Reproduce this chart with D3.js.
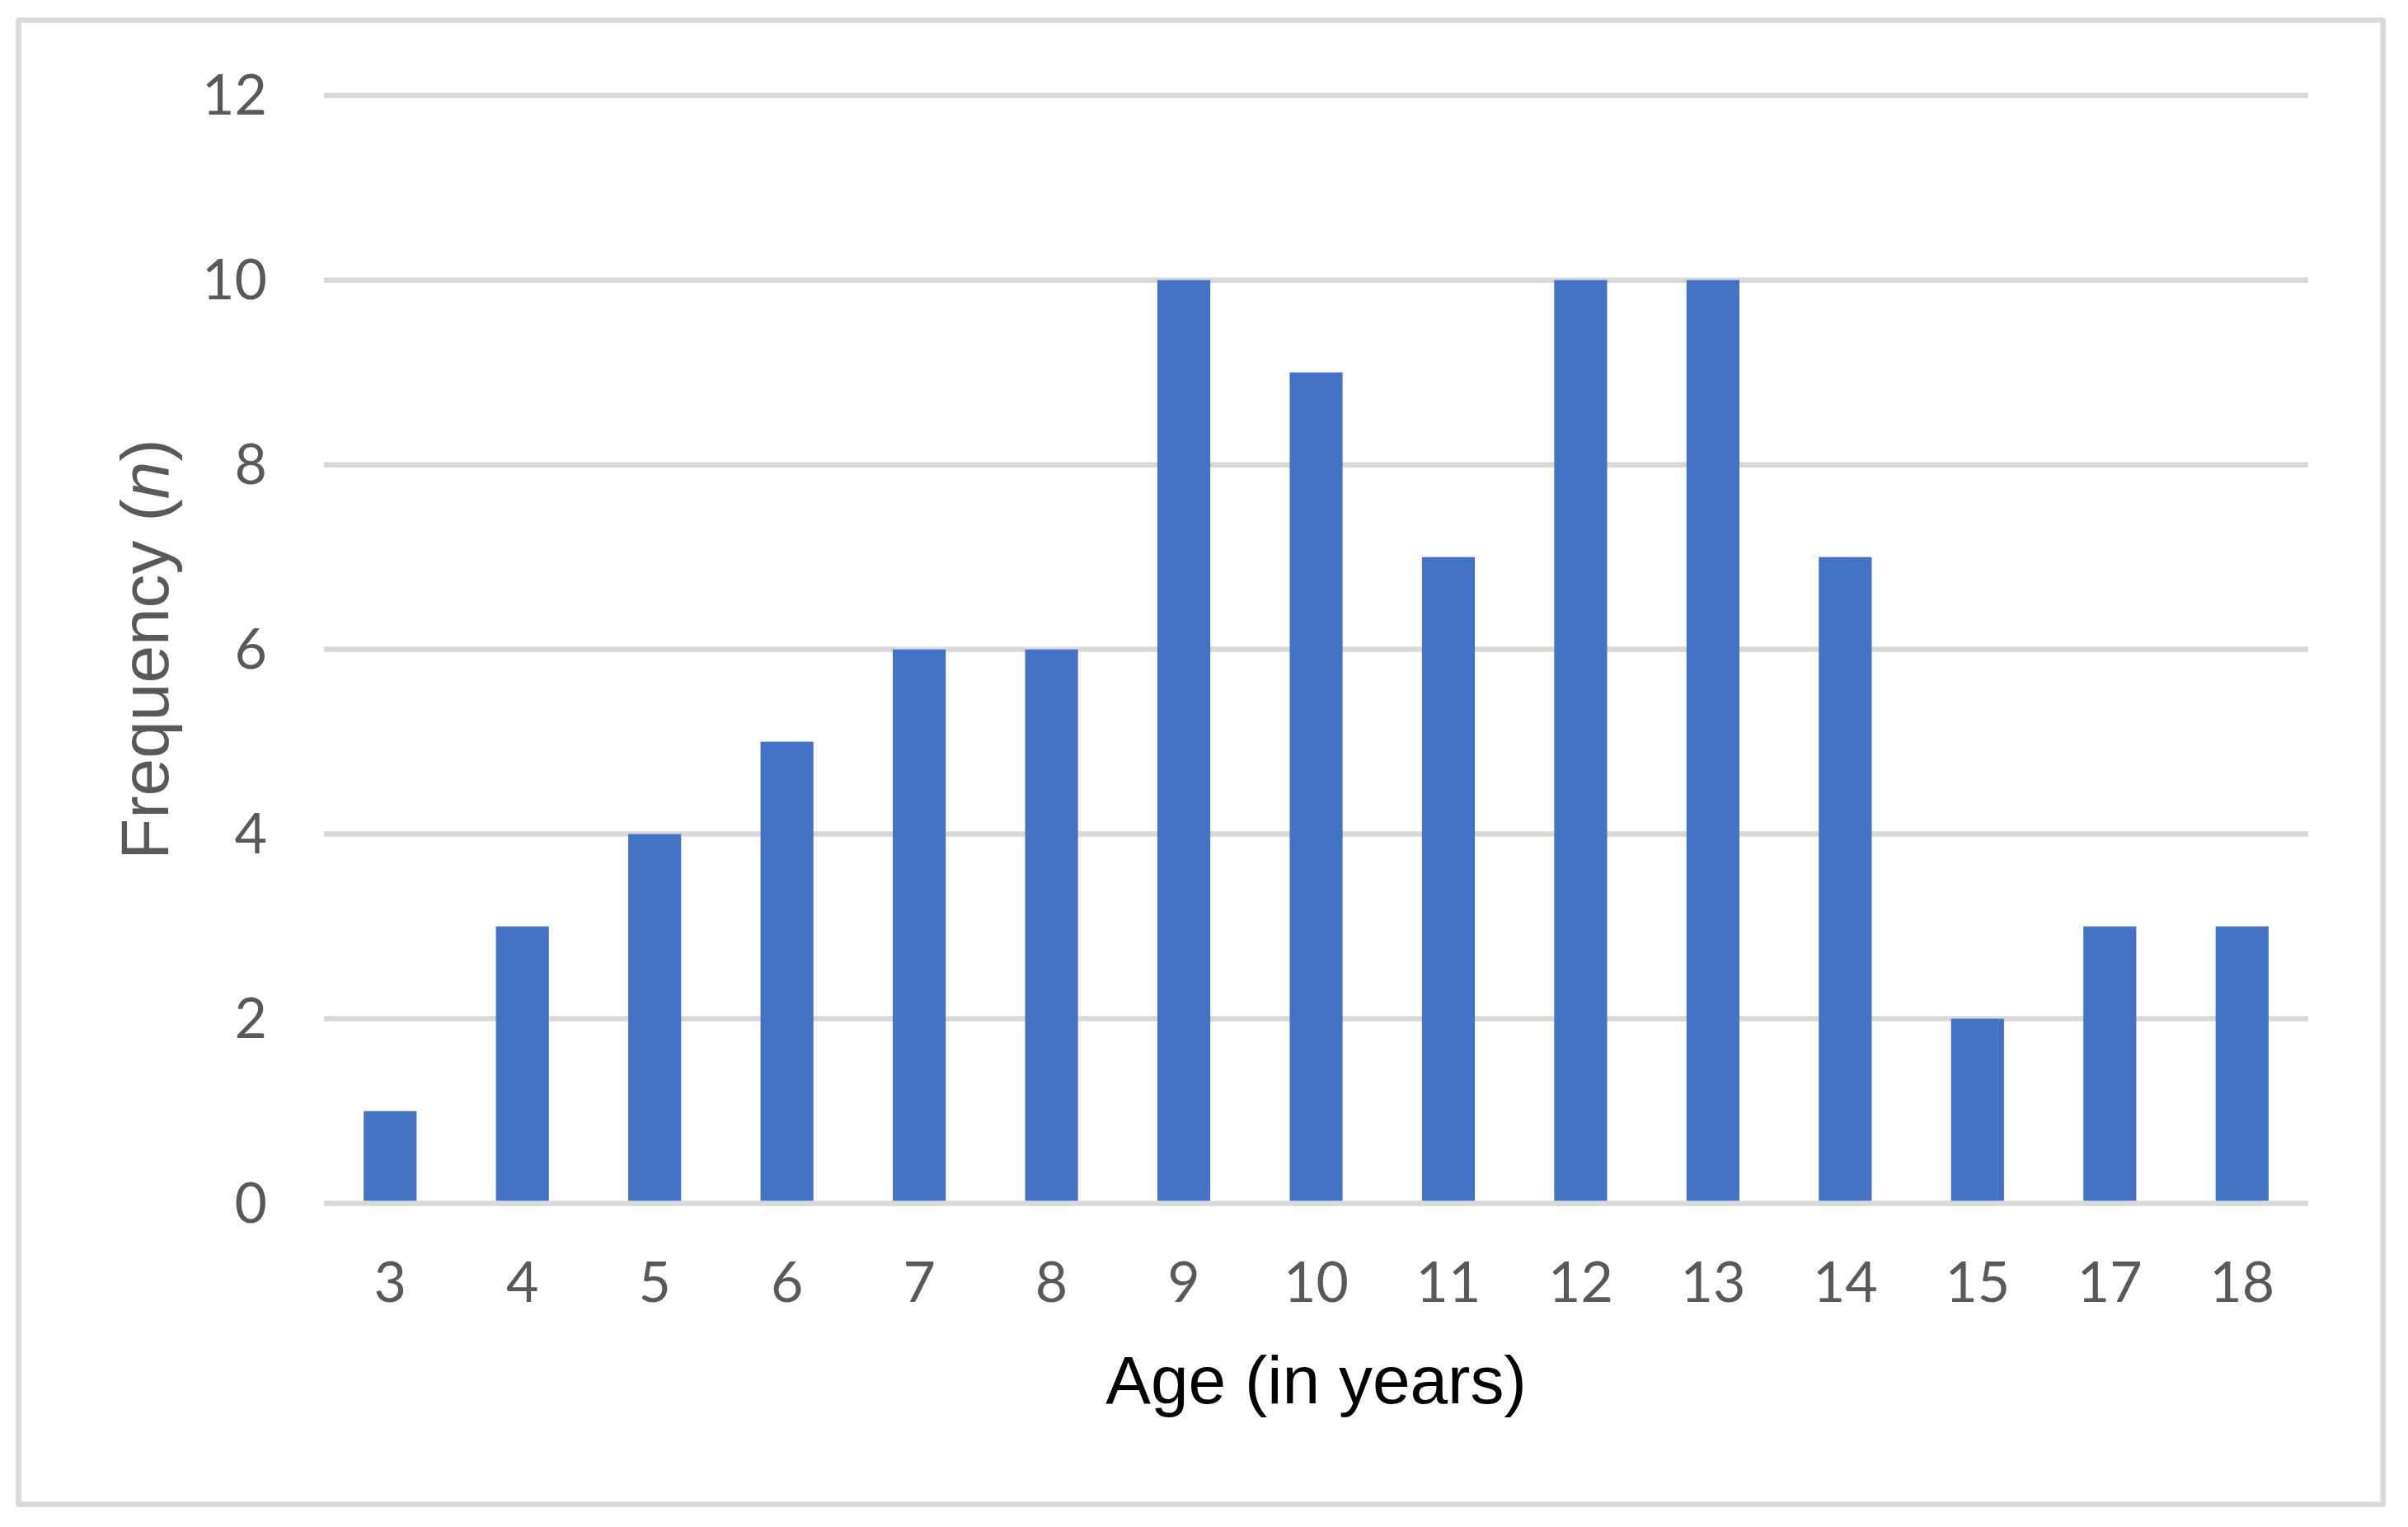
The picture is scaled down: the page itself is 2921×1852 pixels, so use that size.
<!DOCTYPE html>
<html>
<head>
<meta charset="utf-8">
<script src="https://cdn.jsdelivr.net/npm/d3@7"></script>
<style>
  html, body { margin: 0; padding: 0; background: #ffffff; }
  svg { display: block; }
</style>
</head>
<body>
<svg id="chart" width="2921" height="1852"></svg>
<script>
// ---- data ----
const ages = ["3", "4", "5", "6", "7", "8", "9", "10", "11", "12", "13", "14", "15", "17", "18"];
const frequencies = [1, 3, 4, 5, 6, 6, 10, 9, 7, 10, 10, 7, 2, 3, 3];
const yTicks = [0, 2, 4, 6, 8, 10, 12];
const xTitle = "Age (in years)";
const yTitleMain = "Frequency (";
const yTitleItalic = "n";
const yTitleEnd = ")";

// ---- layout ----
const W = 2921, H = 1852;
const plot = { left: 393, right: 2800, top: 115.7, bottom: 1459.5 };
const gridColor = "#d9d9d9";
const barColor = "#4472c4";
const textColor = "#595959";

const svg = d3.select("#chart");

svg.append("rect")
  .attr("x", 0).attr("y", 0).attr("width", W).attr("height", H)
  .attr("fill", "#ffffff");

// outer chart border
svg.append("rect")
  .attr("x", 22.5).attr("y", 24.5)
  .attr("width", 2890.7 - 22.5).attr("height", 1824.5 - 24.5)
  .attr("fill", "none")
  .attr("stroke", gridColor)
  .attr("stroke-width", 6.5)
  .attr("stroke-linejoin", "round");

const x = d3.scaleBand()
  .domain(ages)
  .range([plot.left, plot.right])
  .paddingInner(0.6)
  .paddingOuter(0.3);

const y = d3.scaleLinear()
  .domain([0, 12])
  .range([plot.bottom, plot.top]);

// gridlines
const grid = svg.append("g").attr("class", "grid");
grid.selectAll("line")
  .data(yTicks.filter(d => d !== 0))
  .join("line")
  .attr("x1", plot.left).attr("x2", plot.right)
  .attr("y1", d => y(d)).attr("y2", d => y(d))
  .attr("stroke", gridColor)
  .attr("stroke-width", 6.5);

// bars
svg.append("g").attr("class", "bars")
  .selectAll("rect")
  .data(ages.map((a, i) => ({ age: a, value: frequencies[i] })))
  .join("rect")
  .attr("x", d => x(d.age))
  .attr("width", x.bandwidth())
  .attr("y", d => y(d.value))
  .attr("height", d => y(0) - y(d.value))
  .attr("fill", barColor);

// zero line (category axis) on top
svg.append("line")
  .attr("x1", plot.left).attr("x2", plot.right)
  .attr("y1", y(0)).attr("y2", y(0))
  .attr("stroke", gridColor)
  .attr("stroke-width", 6.5);

// y axis tick labels
const yAxis = d3.axisLeft(y)
  .tickValues(yTicks)
  .tickSize(0)
  .tickPadding(0)
  .tickFormat(d3.format("d"));
const gy = svg.append("g")
  .attr("transform", `translate(${324},0)`)
  .call(yAxis);
gy.select(".domain").remove();
gy.selectAll("text")
  .attr("font-family", "Lato, 'Open Sans', sans-serif")
  .attr("font-size", 68)
  .attr("fill", textColor)
  .attr("dy", "22.5px")
  .attr("text-anchor", "end");

// x axis tick labels
const xAxis = d3.axisBottom(x).tickSize(0).tickPadding(0);
const gx = svg.append("g")
  .attr("transform", `translate(0,${y(0)})`)
  .call(xAxis);
gx.select(".domain").remove();
gx.selectAll("text")
  .attr("font-family", "Lato, 'Open Sans', sans-serif")
  .attr("font-size", 68)
  .attr("fill", textColor)
  .attr("dy", null)
  .attr("y", 1579 - y(0))
  .attr("text-anchor", "middle");

// x axis title
svg.append("text")
  .attr("x", (plot.left + plot.right) / 2)
  .attr("y", 1702)
  .attr("text-anchor", "middle")
  .attr("font-family", "'Liberation Sans', Arial, sans-serif")
  .attr("font-size", 82)
  .attr("fill", "#000000")
  .text(xTitle);

// y axis title
const yt = svg.append("text")
  .attr("transform", `translate(204,${(plot.top + plot.bottom) / 2}) rotate(-90)`)
  .attr("text-anchor", "middle")
  .attr("font-family", "'Liberation Sans', Arial, sans-serif")
  .attr("font-size", 82)
  .attr("fill", textColor);
yt.append("tspan").text(yTitleMain);
yt.append("tspan").attr("font-style", "italic").text(yTitleItalic);
yt.append("tspan").text(yTitleEnd);
</script>
</body>
</html>
